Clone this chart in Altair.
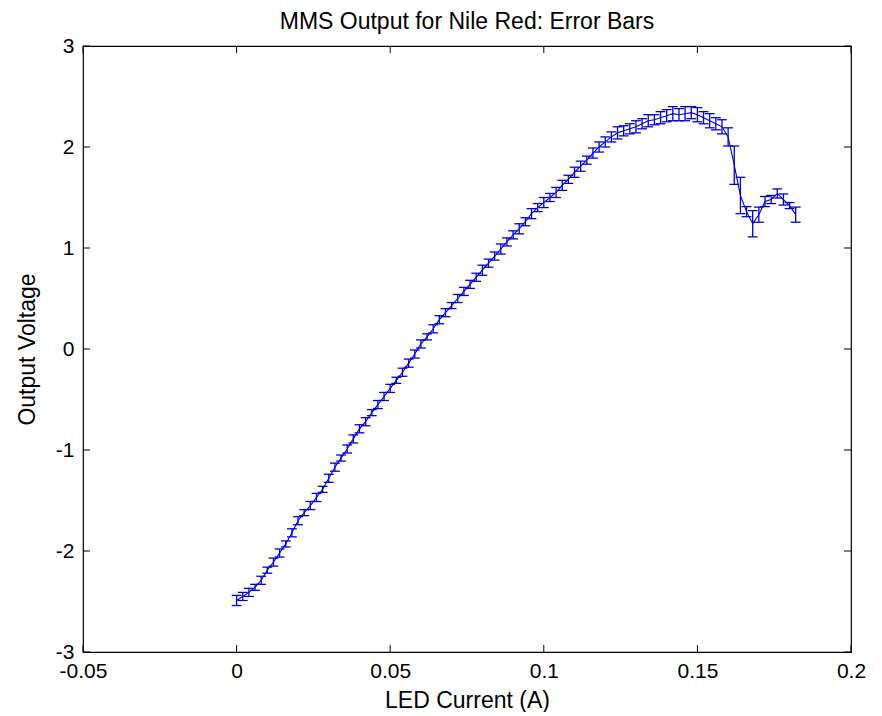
import altair as alt
import pandas as pd

current = [round(0.002 * i, 3) for i in range(92)]

voltage = [
    -2.49, -2.45, -2.41, -2.36, -2.29, -2.19, -2.11, -2.02, -1.93, -1.82,
    -1.70, -1.62, -1.55, -1.47, -1.39, -1.28, -1.17, -1.08, -0.99, -0.89,
    -0.79, -0.72, -0.63, -0.55, -0.47, -0.39, -0.31, -0.23, -0.14, -0.05,
    0.05, 0.12, 0.20, 0.29, 0.36, 0.43, 0.50, 0.57, 0.64, 0.71,
    0.78, 0.85, 0.92, 0.99, 1.06, 1.13, 1.19, 1.26, 1.34, 1.40,
    1.45, 1.50, 1.55, 1.62, 1.68, 1.75, 1.81, 1.87, 1.94, 2.00,
    2.05, 2.10, 2.14, 2.16, 2.18, 2.20, 2.23, 2.26, 2.27, 2.29,
    2.31, 2.33, 2.32, 2.33, 2.34, 2.32, 2.29, 2.26, 2.23, 2.20,
    2.10, 1.82, 1.52, 1.36, 1.24, 1.33, 1.46, 1.48, 1.54, 1.48,
    1.42, 1.33,
]

error = [
    0.05, 0.04, 0.04, 0.03, 0.04, 0.03, 0.04, 0.04, 0.03, 0.04,
    0.04, 0.03, 0.04, 0.04, 0.03, 0.04, 0.04, 0.03, 0.04, 0.04,
    0.04, 0.04, 0.03, 0.04, 0.04, 0.04, 0.03, 0.04, 0.04, 0.04,
    0.04, 0.03, 0.04, 0.04, 0.04, 0.03, 0.04, 0.04, 0.04, 0.04,
    0.05, 0.04, 0.04, 0.05, 0.04, 0.04, 0.05, 0.04, 0.05, 0.04,
    0.05, 0.04, 0.05, 0.05, 0.04, 0.05, 0.05, 0.04, 0.05, 0.05,
    0.05, 0.05, 0.06, 0.05, 0.05, 0.06, 0.05, 0.06, 0.05, 0.06,
    0.06, 0.07, 0.06, 0.07, 0.06, 0.07, 0.06, 0.07, 0.06, 0.07,
    0.09, 0.19, 0.18, 0.05, 0.13, 0.075, 0.05, 0.04, 0.045, 0.055,
    0.03, 0.075,
]

x_ticks = [-0.05, 0, 0.05, 0.1, 0.15, 0.2]
y_ticks = [-3, -2, -1, 0, 1, 2, 3]

assert len(current) == len(voltage) == len(error)

W, H = 768, 606
BLUE = "#0000d8"
FONT = "Liberation Sans"
FS = 21
TFS = 23
CAP = 0.0016  # half width of error-bar caps, in data units
XT = "LED Current (A)"
YT = "Output Voltage"

df = pd.DataFrame({"current": current, "voltage": voltage, "err": error})

xscale = alt.Scale(domain=[-0.05, 0.2], nice=False, zero=False)
yscale = alt.Scale(domain=[-3, 3], nice=False, zero=False)

xaxis = alt.Axis(values=x_ticks, labelExpr="'' + datum.value", ticks=False,
                 domain=False, grid=False, labelPadding=8, titlePadding=8,
                 labelFlush=False, labelOverlap=False)
yaxis = alt.Axis(values=y_ticks, labelExpr="'' + datum.value", ticks=False,
                 domain=False, grid=False, labelPadding=9, titlePadding=16,
                 labelFlush=False, labelOverlap=False)


def X(field):
    return alt.X(field, scale=xscale, axis=xaxis, title=XT)


def Y(field):
    return alt.Y(field, scale=yscale, axis=yaxis, title=YT)


base = alt.Chart(df).transform_calculate(
    lo="datum.voltage - datum.err",
    hi="datum.voltage + datum.err",
    xl=f"datum.current - {CAP}",
    xr=f"datum.current + {CAP}",
)

line = base.mark_line(color=BLUE, strokeWidth=1.1).encode(
    x=X("current:Q"), y=Y("voltage:Q"),
)

bars = base.mark_rule(color=BLUE, strokeWidth=1.3).encode(
    x=X("current:Q"), y=Y("lo:Q"), y2="hi:Q",
)

cap_lo = base.mark_rule(color=BLUE, strokeWidth=1.3).encode(
    x=X("xl:Q"), x2="xr:Q", y=Y("lo:Q"),
)

cap_hi = base.mark_rule(color=BLUE, strokeWidth=1.3).encode(
    x=X("xl:Q"), x2="xr:Q", y=Y("hi:Q"),
)

xt = alt.Chart(pd.DataFrame({"t": x_ticks}))
yt = alt.Chart(pd.DataFrame({"t": y_ticks}))

xtick_bottom = xt.mark_rule(color="black", strokeWidth=1).encode(
    x=X("t:Q"), y=alt.value(H), y2=alt.value(H - 7))
xtick_top = xt.mark_rule(color="black", strokeWidth=1).encode(
    x=X("t:Q"), y=alt.value(0), y2=alt.value(7))
ytick_left = yt.mark_rule(color="black", strokeWidth=1).encode(
    y=Y("t:Q"), x=alt.value(0), x2=alt.value(7))
ytick_right = yt.mark_rule(color="black", strokeWidth=1).encode(
    y=Y("t:Q"), x=alt.value(W - 7), x2=alt.value(W))

chart = alt.layer(
    line, bars, cap_lo, cap_hi,
    xtick_bottom, xtick_top, ytick_left, ytick_right,
).properties(
    width=W,
    height=H,
    background="white",
    autosize=alt.AutoSizeParams(type="none"),
    padding={"left": 75, "top": 38, "right": 20, "bottom": 60},
    title=alt.TitleParams("MMS Output for Nile Red: Error Bars", font=FONT,
                          fontSize=TFS, fontWeight="normal", color="black",
                          offset=1),
).configure_view(
    stroke="black", strokeWidth=1.2
).configure_axis(
    labelFont=FONT, labelFontSize=FS, labelColor="black",
    titleFont=FONT, titleFontSize=TFS, titleFontWeight="normal", titleColor="black",
)

chart.save("out.html", embed_options={"renderer": "svg", "actions": False})
